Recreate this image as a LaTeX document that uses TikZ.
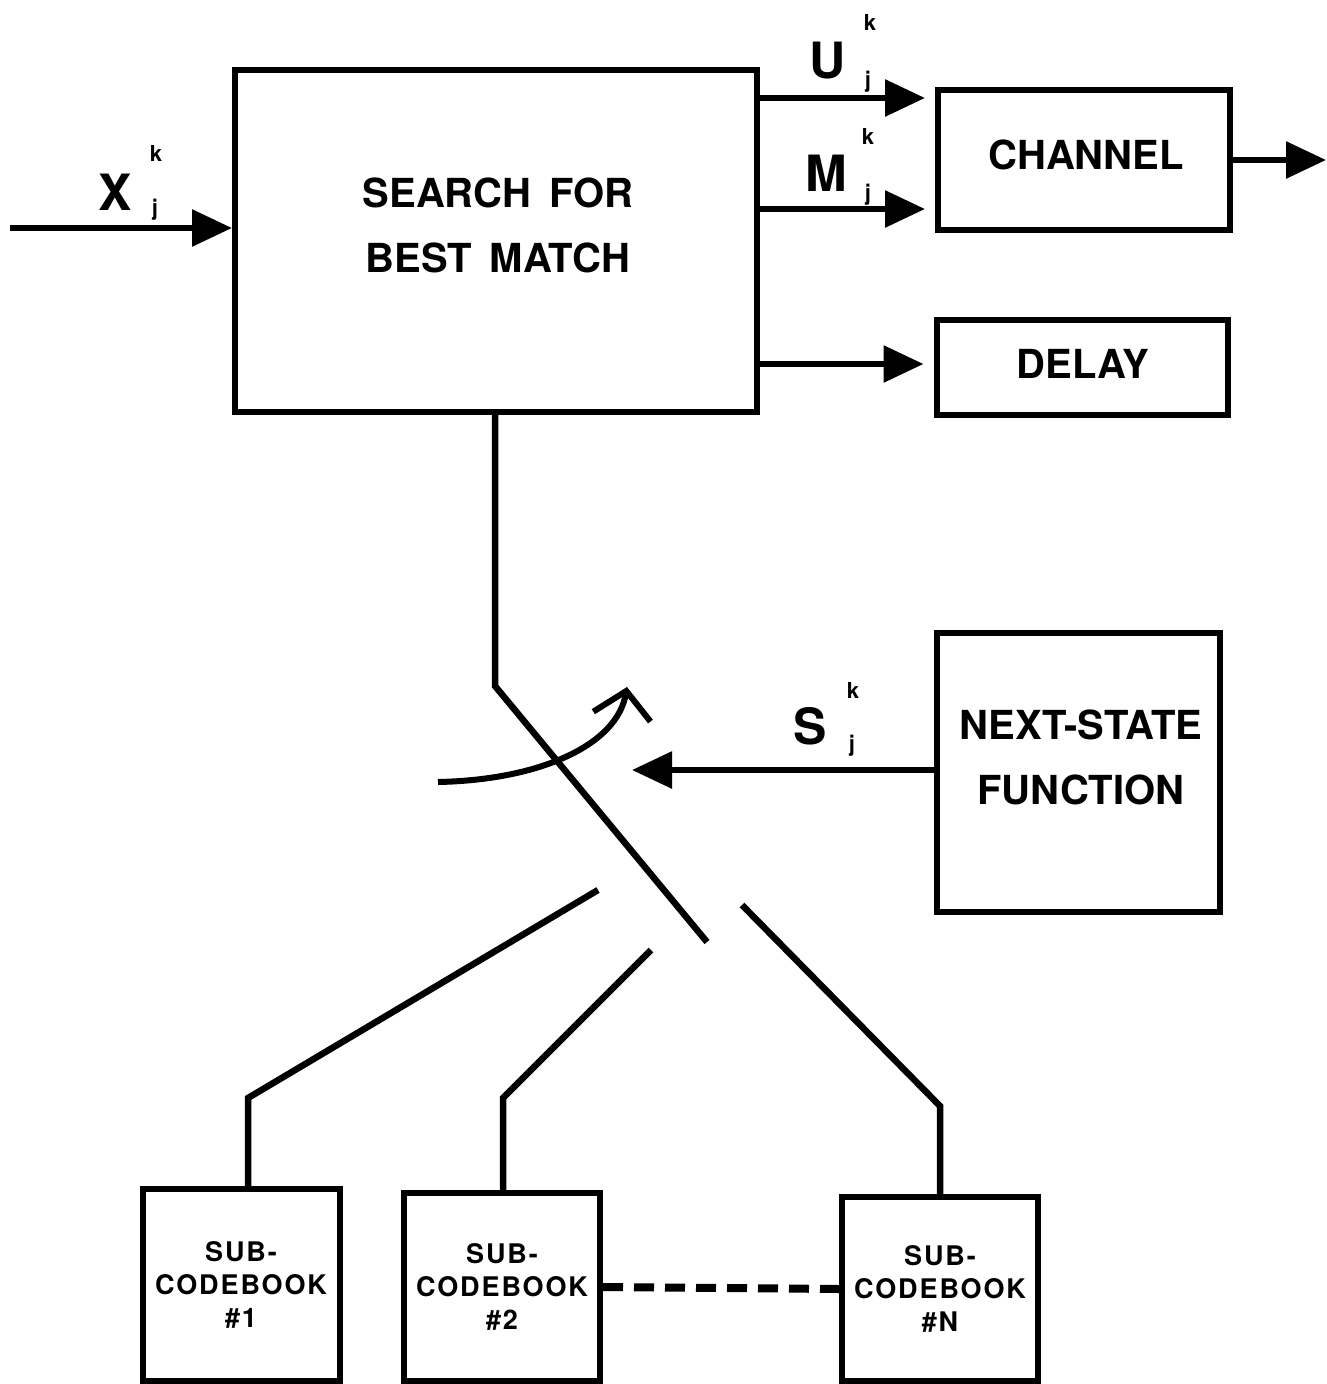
\documentclass[tikz,border=0pt]{standalone}
\usepackage{fontspec}
\setmainfont{TeX Gyre Heros}
\newfontfamily\cbfont[LetterSpace=7]{TeX Gyre Heros}
\usetikzlibrary{arrows.meta}
\tikzset{
  box/.style={draw, line width=6pt, inner sep=0pt},
  arr/.style={line width=6pt, -{Triangle[length=40pt,width=36pt]}},
  wire/.style={line width=6.5pt, line join=miter},
  bigtxt/.style={font=\fontsize{40}{65}\selectfont\bfseries, align=center},
  cbtxt/.style={font=\cbfont\fontsize{27}{33}\selectfont\bfseries, align=center},
  sym/.style={font=\fontsize{50}{50}\selectfont\bfseries},
  idx/.style={font=\fontsize{22}{22}\selectfont\bfseries},
}
\begin{document}
\begin{tikzpicture}[x=1pt,y=-1pt]
\useasboundingbox (0,0) rectangle (1327,1384);
\fill[white] (0,0) rectangle (1327,1384);
% boxes
\node[box, minimum width=522pt, minimum height=342pt] (search) at (496,241) {};
\node[bigtxt] (searchtxt) at (498,225) {SEARCH\hspace{0.45em}FOR\\BEST\hspace{0.45em}MATCH};
\node[box, minimum width=292pt, minimum height=140pt] (chan) at (1084,160) {};
\node[bigtxt] (chantxt) at (1086,155) {CHANNEL};
\node[box, minimum width=291pt, minimum height=95pt] (delay) at (1082,367) {};
\node[bigtxt] (delaytxt) at (1083,364) {DELAY};
\node[box, minimum width=283pt, minimum height=279pt] (nsf) at (1078,772) {};
\node[bigtxt] (nsftxt) at (1081,757) {NEXT-STATE\\FUNCTION};
\node[box, cbtxt, minimum width=197pt, minimum height=192pt] (cb1) at (241,1285) {SUB-\\CODEBOOK\\\#1};
\node[box, cbtxt, minimum width=196pt, minimum height=188pt] (cb2) at (502,1287) {SUB-\\CODEBOOK\\\#2};
\node[box, cbtxt, minimum width=196pt, minimum height=184pt] (cbN) at (940,1289) {SUB-\\CODEBOOK\\\#N};
% helper coordinates
\coordinate (xin) at (10,228);
\coordinate (uy) at (0,98);
\coordinate (my) at (0,209);
\coordinate (dy) at (0,364);
\coordinate (oy) at (0,160);
\coordinate (oend) at (1326,160);
\coordinate (sy) at (0,770);
\coordinate (stip) at (632,770);
\coordinate (pivot) at (495,686);
\coordinate (blade) at (707,942);
\coordinate (c1a) at (598,890);
\coordinate (c1b) at (248,1098);
\coordinate (c2a) at (651,950);
\coordinate (c2b) at (503,1098);
\coordinate (c3a) at (742,905);
\coordinate (c3b) at (940,1106);
\coordinate (rs) at (438,782);
\coordinate (re) at (627,687);
% arrows
\draw[arr] (xin) -- (xin -| search.west);
\draw[arr] (search.east |- uy) -- ([xshift=-10pt]chan.west |- uy);
\draw[arr] (search.east |- my) -- ([xshift=-10pt]chan.west |- my);
\draw[arr] (search.east |- dy) -- ([xshift=-10pt]delay.west |- dy);
\draw[arr] (chan.east |- oy) -- (oend);
\draw[arr] (nsf.west |- sy) -- (stip);
% labels
\node[sym] (xl) at (115,192) {X};
\node[idx] (xk) at (156,153) {k};
\node[idx] (xj) at (155,210) {j};
\node[sym] (ul) at (828,61) {U};
\node[idx] (uk) at (870,22) {k};
\node[idx] (uj) at (868,82) {j};
\node[sym] (ml) at (826,173) {M};
\node[idx] (mk) at (868,136) {k};
\node[idx] (mj) at (868,195) {j};
\node[sym] (sl) at (810,726) {S};
\node[idx] (sk) at (853,690) {k};
\node[idx] (sj) at (852,746) {j};
% switch
\draw[wire] (search.south -| pivot) -- (pivot) -- (blade);
\draw[line width=6pt, -{Straight Barb[length=26pt,width=58pt]}] (rs) .. controls (540,780) and (617,745) .. (re);
% codebook wires
\draw[wire] (c1a) -- (c1b) -- (cb1.north -| c1b);
\draw[wire] (c2a) -- (c2b) -- (cb2.north -| c2b);
\draw[wire] (c3a) -- (c3b) -- (cbN.north -| c3b);
\draw[line width=8pt, dash pattern=on 20pt off 11pt] (cb2.east) -- (cbN.west);
\end{tikzpicture}
\end{document}
